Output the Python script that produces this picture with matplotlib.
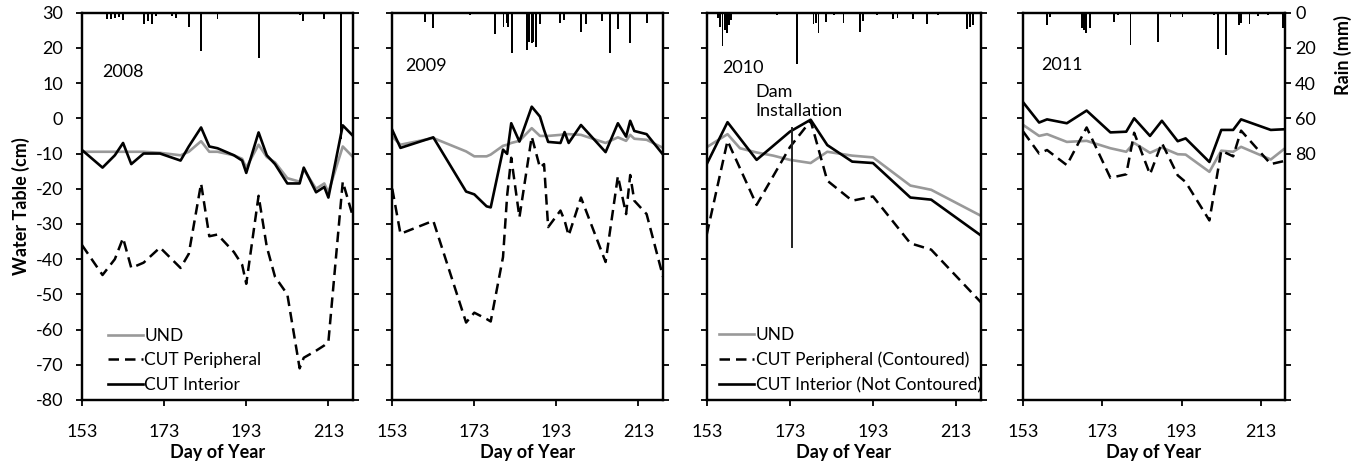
import matplotlib.pyplot as plt

plt.rcParams['font.family'] = ['Lato', 'DejaVu Sans']
plt.rcParams['font.size'] = 13
plt.rcParams['axes.unicode_minus'] = False

# --- 2008 ---
days_2008 = [153, 158, 161, 163, 165, 168, 172, 177, 179, 182, 184, 186, 190, 192, 193,
             196, 198, 200, 203, 206, 207, 210, 212, 213, 216.5, 219]
und_2008 = [-9.5, -9.5, -9.5, -9.5, -9.5, -9.5, -9.8, -10.5, -9.5, -6.5, -9.5, -9.5, -10.5,
            -11.5, -14, -7.5, -11, -12.5, -17, -18, -14.5, -20, -18.5, -21, -8, -11]
periph_2008 = [-36, -44.5, -40, -34, -42.5, -41, -36.7, -42.5, -38.5, -18.5, -33.5, -33, -38,
               -41.6, -47, -22, -36.5, -45, -50, -71, -68, -66, -64.5, -63.5, -18, -28]
interior_2008 = [-9, -14, -10.5, -7, -13, -10, -10, -12, -8, -2.6, -8, -8.5, -10.5, -12,
                 -15.5, -4, -10.5, -13, -18.5, -18.5, -14, -21, -19.5, -22.5, -2, -5]
rain_days_2008 = [159.1, 160.1, 161, 162, 163, 168, 169, 170.1, 171, 175, 175.9, 179, 182,
                  186, 194, 196, 206.1, 206.8, 212, 216.1]
rain_2008 = [3.8, 3.8, 3.2, 2.5, 4, 6.6, 5, 6.6, 2, 2, 3, 7.9, 22, 3.8, 1, 25.8, 1.5, 5,
             3.8, 72]

# --- 2009 ---
days_2009 = [153, 155, 163, 171, 173, 176, 177, 180, 181, 182, 184, 187, 189, 190, 191,
             194, 195, 196, 199, 205, 208, 210, 211, 212, 215, 219]
und_2009 = [-5.2, -7.5, -5.6, -9.4, -10.8, -10.8, -10.3, -7.8, -7.5, -7, -6.4, -2.8, -5,
            -5, -5, -4.7, -4.5, -4.5, -4.7, -7, -5.4, -6.4, -4.7, -5.8, -6.1, -8.4]
periph_2009 = [-20, -32.8, -29.1, -58, -55.2, -57, -57.7, -39.4, -22, -11.2, -28.1, -5.2,
               -14, -13, -30.9, -26.2, -29, -33.3, -22.5, -40.8, -16.4, -27.2, -16.1,
               -23.4, -27.2, -45]
interior_2009 = [-3.3, -8.4, -5.4, -20.8, -21.6, -25, -25.3, -8.9, -10.1, -1.4, -6.6, 3.3,
                 0.5, -3.3, -6.7, -7, -3.9, -7, -1.9, -9.6, -1.4, -5.2, -0.7, -3.6, -4.5,
                 -10.3]
rain_days_2009 = [161, 163, 171.9, 178, 180.1, 180.9, 181.3, 182.1, 185.9, 186.4, 187,
                  187.4, 188, 189, 193.9, 194.9, 196.2, 199.1, 200.2, 204.1, 206.1, 208.1,
                  211, 215, 217.1]
rain_2009 = [5.1, 8.9, 1.3, 12.3, 7.9, 6, 8.3, 22.7, 21.2, 16.4, 17.4, 16.4, 19.7, 6.4, 6,
             4.2, 0.8, 10.8, 6.6, 4.5, 22.7, 9.5, 17.4, 6, 0.8]

# --- 2010 ---
days_2010 = [153, 158, 165, 173, 178, 182, 188, 193, 202, 207, 219]
periph_2010 = [-33, -6.4, -24.6, -8.2, -0.7, -17.7, -23.4, -22.2, -35.5, -37.3, -52.3]
interior_2010 = [-13, -1.1, -11.8, -3.8, -0.4, -7.6, -12.3, -12.7, -22.5, -23.1, -33.3]
und_days_2010 = [153, 158, 161, 165, 169, 173, 178, 182, 188, 193, 202, 207, 219]
und_2010 = [-8.2, -4.5, -8.5, -9.7, -10.6, -11.8, -12.7, -9.5, -10.6, -11.1, -19.1, -20.3,
            -27.7]
rain_days_2010 = [155.8, 156.2, 156.8, 157.3, 157.8, 158.4, 158.8, 169.8, 174.8, 178.7,
                  179.2, 179.9, 181.7, 183.6, 185.9, 189.9, 190.5, 193.9, 197.9, 198.9,
                  202.7, 205.9, 208.7, 215.7, 216.4, 217]
rain_2010 = [3.2, 7.9, 18.9, 9.8, 11.7, 7, 4.2, 1.3, 29.3, 6.4, 6, 11.7, 5.1, 1.3, 5.7,
             10.8, 4.5, 1.3, 3.6, 3.2, 3.6, 6.6, 1.3, 9.3, 7.9, 7]
dam_day = 173.4
dam_top, dam_bottom = -2.7, -36.5

# --- 2011 ---
days_2011 = [153, 157, 159, 164, 169, 175, 179, 181, 185, 188, 192, 194, 200, 203, 206,
             208, 215.5, 219]
und_2011 = [-1.9, -5, -4.5, -6.7, -6.4, -8.5, -9.5, -7, -9.8, -8.3, -10.2, -10.3, -15.2,
            -9.2, -9.5, -8.1, -11.7, -8.6]
periph_2011 = [-3.8, -10, -9, -13.3, -2.6, -16.9, -15.9, -4.1, -15.9, -7, -16.2, -18.1, -29,
               -9.2, -10.8, -3.5, -13, -12.1]
interior_2011 = [4.5, -1.2, -0.3, -1.4, 2.2, -4, -3.8, 0, -5, -0.7, -6.5, -5.7, -12.4, -3.3,
                 -3.3, -0.3, -3.3, -3.1]
rain_days_2011 = [158.9, 159.8, 167.8, 168.4, 168.9, 169.9, 176, 176.9, 180.1, 187.1, 190.2,
                  193.2, 198.3, 199.5, 201.2, 202.2, 204.2, 207.4, 208, 210.1, 212.2, 214.8,
                  218.6]
rain_2011 = [7, 2.3, 8.9, 9.8, 11.3, 8.9, 5.1, 1.3, 18.3, 16.4, 2.6, 2.6, 0.8, 0.8, 1.3,
             20.8, 24, 7, 5.7, 6.4, 1.9, 1.3, 8.9]

year_labels = ['2008', '2009', '2010', '2011']
legend_short = ['UND', 'CUT Peripheral', 'CUT Interior']
legend_long = ['UND', 'CUT Peripheral (Contoured)', 'CUT Interior (Not Contoured)']
x_ticks = [153, 173, 193, 213]
wt_ticks = list(range(-80, 31, 10))
rain_ticks = list(range(0, 221, 20))
rain_labels = ['0', '20', '40', '60', '80']

panels = [
    (days_2008, und_2008, days_2008, periph_2008, interior_2008, rain_days_2008, rain_2008),
    (days_2009, und_2009, days_2009, periph_2009, interior_2009, rain_days_2009, rain_2009),
    (und_days_2010, und_2010, days_2010, periph_2010, interior_2010, rain_days_2010, rain_2010),
    (days_2011, und_2011, days_2011, periph_2011, interior_2011, rain_days_2011, rain_2011),
]

lefts = [0.0602, 0.2880, 0.5189, 0.7513]
widths = [0.1990, 0.1988, 0.2014, 0.1919]
bottom, height = 0.1453, 0.8276
label_pos = [(0.073, 0.846), (0.047, 0.862), (0.058, 0.858), (0.070, 0.866)]

fig = plt.figure(figsize=(13.62, 4.68), dpi=100)

for i, (ud, u, d, p, c, rd, r) in enumerate(panels):
    ax = fig.add_axes([lefts[i], bottom, widths[i], height])
    ax.plot(ud, u, color='#999999', lw=1.9, label='UND')
    ax.plot(d, p, color='black', lw=1.8, dashes=(4.2, 2.4), label='CUT Peripheral')
    ax.plot(d, c, color='black', lw=1.9, label='CUT Interior')
    ax.set_xlim(153, 219)
    ax.set_ylim(-80, 30)
    ax.set_xticks(x_ticks)
    ax.set_yticks(wt_ticks)
    ax.tick_params(direction='out', length=4.5, width=1.3)
    ax.tick_params(axis='x', pad=13)
    ax.tick_params(axis='y', pad=9)
    for s in ax.spines.values():
        s.set_linewidth(1.6)
    ax.set_xlabel('Day of Year', fontweight='bold', labelpad=3)
    if i == 0:
        ax.set_ylabel('Water Table (cm)', fontweight='bold', labelpad=4)
    else:
        ax.set_yticklabels([])
    ax.text(label_pos[i][0], label_pos[i][1], year_labels[i], transform=ax.transAxes,
            ha='left', va='center')

    ax2 = ax.twinx()
    ax2.bar(rd, r, width=0.45, color='black', align='center')
    ax2.set_ylim(220, 0)
    ax2.set_yticks(rain_ticks)
    ax2.tick_params(direction='out', length=4.5, width=1.3, pad=3)
    for s in ax2.spines.values():
        s.set_linewidth(1.6)
    if i == 3:
        ax2.set_yticklabels(rain_labels + [''] * (len(rain_ticks) - len(rain_labels)))
        ax2.set_ylabel('Rain (mm)', fontweight='bold')
        ax2.yaxis.set_label_coords(1.19, 0.89)
    else:
        ax2.set_yticklabels([])

    if i == 0 or i == 2:
        names = legend_short if i == 0 else legend_long
        handles = ax.get_lines()[:3]
        ax.legend(handles, names, loc='lower left',
                  bbox_to_anchor=(0.07 if i == 0 else 0.02, 0.0),
                  frameon=False, fontsize=12.5, handlelength=2.0, handletextpad=0.1,
                  labelspacing=0.5, borderaxespad=0)

    if i == 2:
        ax.plot([dam_day, dam_day], [dam_top, dam_bottom], color='#222222', lw=1.4)
        ax.text(0.176, 0.771, 'Dam\nInstallation', transform=ax.transAxes,
                ha='left', va='center', linespacing=1.25)

fig.savefig('out.png', dpi=100)
